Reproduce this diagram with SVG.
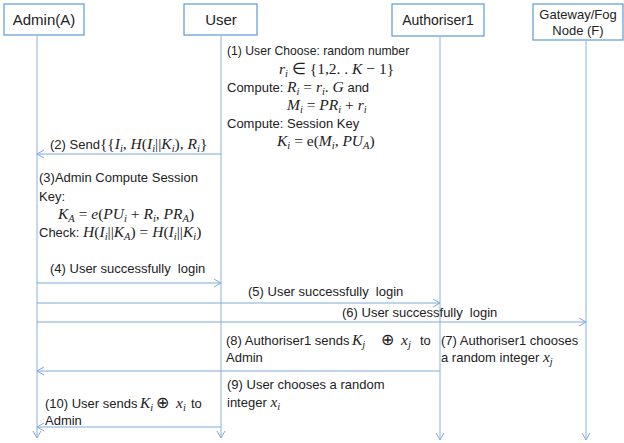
<svg xmlns="http://www.w3.org/2000/svg" width="624" height="443" viewBox="0 0 624 443">
<style>
.box{fill:#fff;stroke:#5B9BD5;stroke-width:1.2}
.life{stroke:#9DC0E8;stroke-width:1.2;fill:none}
.msg{stroke:#7FAADD;stroke-width:1;fill:none}
.t{font-family:"Liberation Sans",Arial,sans-serif;font-size:13px;fill:#222}
.h{font-family:"Liberation Sans",Arial,sans-serif;font-size:15px;fill:#222}
.m{font-family:"Liberation Serif","Times New Roman",serif;font-style:italic;font-size:15.5px}
.u{font-family:"Liberation Serif","Times New Roman",serif;font-style:normal;font-size:15.5px}
.s{font-size:10.5px}
</style>
<defs>
<marker id="arr" markerWidth="10" markerHeight="10" refX="8" refY="5" orient="auto" markerUnits="userSpaceOnUse">
<polyline points="1,1 8,5 1,9" fill="none" stroke="#7FAADD" stroke-width="1"/>
</marker>
</defs>

<g id="admin">
<rect class="box" x="4" y="4" width="80" height="31"/>
<text class="h" x="44" y="25" text-anchor="middle">Admin(A)</text>
</g>
<g id="user">
<rect class="box" x="184" y="4" width="73" height="31"/>
<text class="h" x="221" y="25" text-anchor="middle">User</text>
</g>
<g id="authoriser1">
<rect class="box" x="392" y="4" width="92" height="32"/>
<text class="h" x="438" y="25" text-anchor="middle" style="font-size:14px">Authoriser1</text>
</g>
<g id="gateway">
<rect class="box" x="533" y="4" width="90" height="36"/>
<text class="t" x="578" y="19" text-anchor="middle">Gateway/Fog</text>
<text class="t" x="578" y="35" text-anchor="middle">Node (F)</text>
</g>

<g id="connectors">
<line class="life" x1="37" y1="35" x2="37" y2="438" marker-end="url(#arr)"/>
<line class="life" x1="221" y1="35" x2="221" y2="438" marker-end="url(#arr)"/>
<line class="life" x1="440" y1="36" x2="440" y2="440" marker-end="url(#arr)"/>
<line class="life" x1="586" y1="40" x2="586" y2="440" marker-end="url(#arr)"/>
<line class="msg" x1="221" y1="154" x2="37" y2="154" marker-end="url(#arr)"/>
<line class="msg" x1="37" y1="283" x2="221" y2="283" marker-end="url(#arr)"/>
<line class="msg" x1="37" y1="303" x2="440" y2="303" marker-end="url(#arr)"/>
<line class="msg" x1="37" y1="322" x2="586" y2="322" marker-end="url(#arr)"/>
<line class="msg" x1="440" y1="371" x2="37" y2="371" marker-end="url(#arr)"/>
<line class="msg" x1="221" y1="427" x2="37" y2="427" marker-end="url(#arr)"/>
</g>

<g id="labels">
<text class="t" x="227" y="55" style="font-size:12.2px">(1) User Choose: random number</text>
<text class="t" x="279" y="74"><tspan class="m">r</tspan><tspan class="m s" baseline-shift="-3">i</tspan><tspan class="u"> ∈ {1,2. . </tspan><tspan class="m">K</tspan><tspan class="u"> − 1}</tspan></text>
<text class="t" x="227" y="92">Compute: <tspan class="m">R</tspan><tspan class="m s" baseline-shift="-3">i</tspan><tspan class="u"> = </tspan><tspan class="m">r</tspan><tspan class="m s" baseline-shift="-3">i</tspan><tspan class="u">. </tspan><tspan class="m">G</tspan> and</text>
<text class="t" x="287" y="110"><tspan class="m">M</tspan><tspan class="m s" baseline-shift="-3">i</tspan><tspan class="u"> = </tspan><tspan class="m">PR</tspan><tspan class="m s" baseline-shift="-3">i</tspan><tspan class="u"> + </tspan><tspan class="m">r</tspan><tspan class="m s" baseline-shift="-3">i</tspan></text>
<text class="t" x="227" y="128">Compute: Session Key</text>
<text class="t" x="277" y="146"><tspan class="m">K</tspan><tspan class="m s" baseline-shift="-3">i</tspan><tspan class="u"> = e(</tspan><tspan class="m">M</tspan><tspan class="m s" baseline-shift="-3">i</tspan><tspan class="u">, </tspan><tspan class="m">PU</tspan><tspan class="m s" baseline-shift="-3">A</tspan><tspan class="u">)</tspan></text>

<text class="t" x="50" y="149">(2) Send<tspan class="u">{{</tspan><tspan class="m">I</tspan><tspan class="m s" baseline-shift="-3">i</tspan><tspan class="u">, </tspan><tspan class="m">H</tspan><tspan class="u">(</tspan><tspan class="m">I</tspan><tspan class="m s" baseline-shift="-3">i</tspan><tspan class="u">||</tspan><tspan class="m">K</tspan><tspan class="m s" baseline-shift="-3">i</tspan><tspan class="u">), </tspan><tspan class="m">R</tspan><tspan class="m s" baseline-shift="-3">i</tspan><tspan class="u">}</tspan></text>

<text class="t" x="39" y="182">(3)Admin Compute Session</text>
<text class="t" x="39" y="201">Key:</text>
<text class="t" x="58" y="219"><tspan class="m">K</tspan><tspan class="m s" baseline-shift="-3">A</tspan><tspan class="u"> = </tspan><tspan class="m">e</tspan><tspan class="u">(</tspan><tspan class="m">PU</tspan><tspan class="m s" baseline-shift="-3">i</tspan><tspan class="u"> + </tspan><tspan class="m">R</tspan><tspan class="m s" baseline-shift="-3">i</tspan><tspan class="u">, </tspan><tspan class="m">PR</tspan><tspan class="m s" baseline-shift="-3">A</tspan><tspan class="u">)</tspan></text>
<text class="t" x="39" y="237">Check: <tspan class="m">H</tspan><tspan class="u">(</tspan><tspan class="m">I</tspan><tspan class="m s" baseline-shift="-3">i</tspan><tspan class="u">||</tspan><tspan class="m">K</tspan><tspan class="m s" baseline-shift="-3">A</tspan><tspan class="u">) = </tspan><tspan class="m">H</tspan><tspan class="u">(</tspan><tspan class="m">I</tspan><tspan class="m s" baseline-shift="-3">i</tspan><tspan class="u">||</tspan><tspan class="m">K</tspan><tspan class="m s" baseline-shift="-3">i</tspan><tspan class="u">)</tspan></text>

<text class="t" x="50" y="273" xml:space="preserve">(4) User successfully  login</text>
<text class="t" x="248" y="296" xml:space="preserve">(5) User successfully  login</text>
<text class="t" x="342" y="317" xml:space="preserve">(6) User successfully  login</text>

<text class="t" x="226" y="345">(8) Authoriser1 sends <tspan class="m" x="352">K</tspan><tspan class="m s" baseline-shift="-3">j</tspan><tspan class="u" x="381">⊕</tspan><tspan class="m" x="401">x</tspan><tspan class="m s" baseline-shift="-3">j</tspan><tspan x="420">to</tspan></text>
<text class="t" x="226" y="362">Admin</text>
<text class="t" x="441" y="345">(7) Authoriser1 chooses</text>
<text class="t" x="441" y="362">a random integer <tspan class="m">x</tspan><tspan class="m s" baseline-shift="-3">j</tspan></text>

<text class="t" x="227" y="389">(9) User chooses a random</text>
<text class="t" x="227" y="407">integer <tspan class="m">x</tspan><tspan class="m s" baseline-shift="-3">i</tspan></text>

<text class="t" x="45" y="408">(10) User sends <tspan class="m" x="140">K</tspan><tspan class="m s" baseline-shift="-3">i</tspan><tspan class="u" x="156">⊕</tspan><tspan class="m" x="176">x</tspan><tspan class="m s" baseline-shift="-3">i</tspan><tspan x="191">to</tspan></text>
<text class="t" x="45" y="425">Admin</text>
</g>
</svg>
